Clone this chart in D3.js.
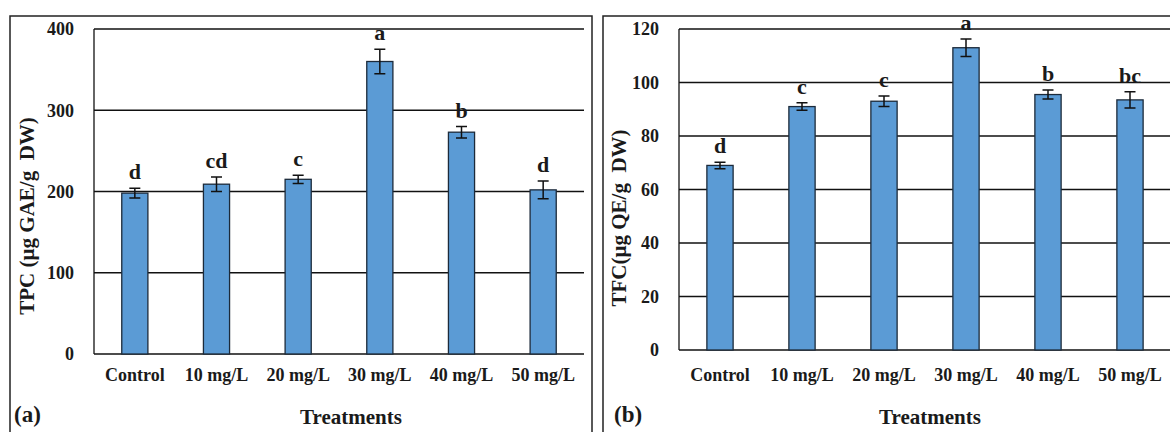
<!DOCTYPE html>
<html>
<head>
<meta charset="utf-8">
<script src="https://cdn.jsdelivr.net/npm/d3@7"></script>
<style>
  body { margin: 0; background: #fff; }
  text { font-family: "Liberation Serif", "Times New Roman", serif; font-weight: bold; fill: #1a1a1a; }
</style>
</head>
<body>
<div id="chart"></div>
<script>
const treatments = ["Control", "10 mg/L", "20 mg/L", "30 mg/L", "40 mg/L", "50 mg/L"];

const tpcValues = [198, 209, 215, 360, 273, 202];
const tpcErrors = [6, 9, 5, 15, 7, 11];
const tpcLetters = ["d", "cd", "c", "a", "b", "d"];
const tpcTicks = [0, 100, 200, 300, 400];

const tfcValues = [69, 91, 93, 113, 95.5, 93.5];
const tfcErrors = [1.2, 1.4, 2, 3.3, 1.7, 3];
const tfcLetters = ["d", "c", "c", "a", "b", "bc"];
const tfcTicks = [0, 20, 40, 60, 80, 100, 120];

const svg = d3.select("#chart").append("svg")
  .attr("width", 1170)
  .attr("height", 432);

function drawPanel(opts) {
  const g = svg.append("g");

  // outer frame of the panel
  g.append("rect")
    .attr("x", opts.frame[0]).attr("y", opts.frame[1])
    .attr("width", opts.frame[2]).attr("height", opts.frame[3])
    .attr("fill", "none").attr("stroke", "#222").attr("stroke-width", 1.5);

  const x = d3.scaleBand()
    .domain(treatments)
    .range([opts.left, opts.right])
    .paddingInner(0.68)
    .paddingOuter(0.34);

  const y = d3.scaleLinear()
    .domain([0, d3.max(opts.ticks)])
    .range([opts.bottom, opts.top]);

  // gridlines
  g.selectAll(".grid").data(opts.ticks).enter()
    .append("line")
    .attr("x1", opts.left).attr("x2", opts.right)
    .attr("y1", d => y(d)).attr("y2", d => y(d))
    .attr("stroke", "#111").attr("stroke-width", 1.3);

  // y axis line
  g.append("line")
    .attr("x1", opts.left).attr("x2", opts.left)
    .attr("y1", y(0)).attr("y2", y(d3.max(opts.ticks)))
    .attr("stroke", "#111").attr("stroke-width", 1.3);

  g.selectAll(".ytick").data(opts.ticks).enter()
    .append("text")
    .attr("x", opts.left - 20)
    .attr("y", d => y(d))
    .attr("dy", "0.35em")
    .attr("text-anchor", "end")
    .style("font-size", "18px")
    .text(d => d);

  const data = treatments.map((t, i) => ({
    name: t, value: opts.values[i], err: opts.errors[i], letter: opts.letters[i]
  }));

  g.selectAll(".bar").data(data).enter()
    .append("rect")
    .attr("x", d => x(d.name))
    .attr("y", d => y(d.value))
    .attr("width", x.bandwidth())
    .attr("height", d => y(0) - y(d.value))
    .attr("fill", "#5b9bd5")
    .attr("stroke", "#1c2a3a")
    .attr("stroke-width", 1.3);

  const cx = d => x(d.name) + x.bandwidth() / 2;

  // error bars
  g.selectAll(".err").data(data).enter()
    .append("path")
    .attr("d", d => {
      const hi = y(d.value + d.err), lo = y(d.value - d.err), c = cx(d);
      return `M${c - 5.5},${hi}H${c + 5.5}M${c},${hi}V${lo}M${c - 5.5},${lo}H${c + 5.5}`;
    })
    .attr("fill", "none").attr("stroke", "#111").attr("stroke-width", 1.5);

  g.selectAll(".letter").data(data).enter()
    .append("text")
    .attr("x", cx)
    .attr("y", d => y(d.value + d.err) - 9)
    .attr("text-anchor", "middle")
    .style("font-size", "22px")
    .text(d => d.letter);

  g.selectAll(".xtick").data(data).enter()
    .append("text")
    .attr("x", cx)
    .attr("y", 381)
    .attr("text-anchor", "middle")
    .style("font-size", "18px")
    .text(d => d.name);

  g.append("text")
    .attr("transform", `translate(${opts.titleX},${opts.titleY}) rotate(-90)`)
    .attr("text-anchor", "middle")
    .style("font-size", "21px")
    .style("white-space", "pre")
    .text(opts.yTitle);

  g.append("text")
    .attr("x", opts.treatX)
    .attr("y", 424)
    .attr("text-anchor", "middle")
    .style("font-size", "21px")
    .text("Treatments");

  g.append("text")
    .attr("x", opts.tagX)
    .attr("y", 422)
    .style("font-size", "23px")
    .text(opts.tag);
}

drawPanel({
  frame: [10, 16, 582, 430],
  left: 94, right: 584, top: 29, bottom: 354,
  ticks: tpcTicks, values: tpcValues, errors: tpcErrors, letters: tpcLetters,
  yTitle: "TPC (µg GAE/g  DW)", titleX: 34, titleY: 216,
  treatX: 351, tagX: 14, tag: "(a)"
});

drawPanel({
  frame: [603, 16, 600, 430],
  left: 679, right: 1171, top: 29, bottom: 350,
  ticks: tfcTicks, values: tfcValues, errors: tfcErrors, letters: tfcLetters,
  yTitle: "TFC(µg QE/g  DW)", titleX: 626, titleY: 218,
  treatX: 930, tagX: 614, tag: "(b)"
});
</script>
</body>
</html>
